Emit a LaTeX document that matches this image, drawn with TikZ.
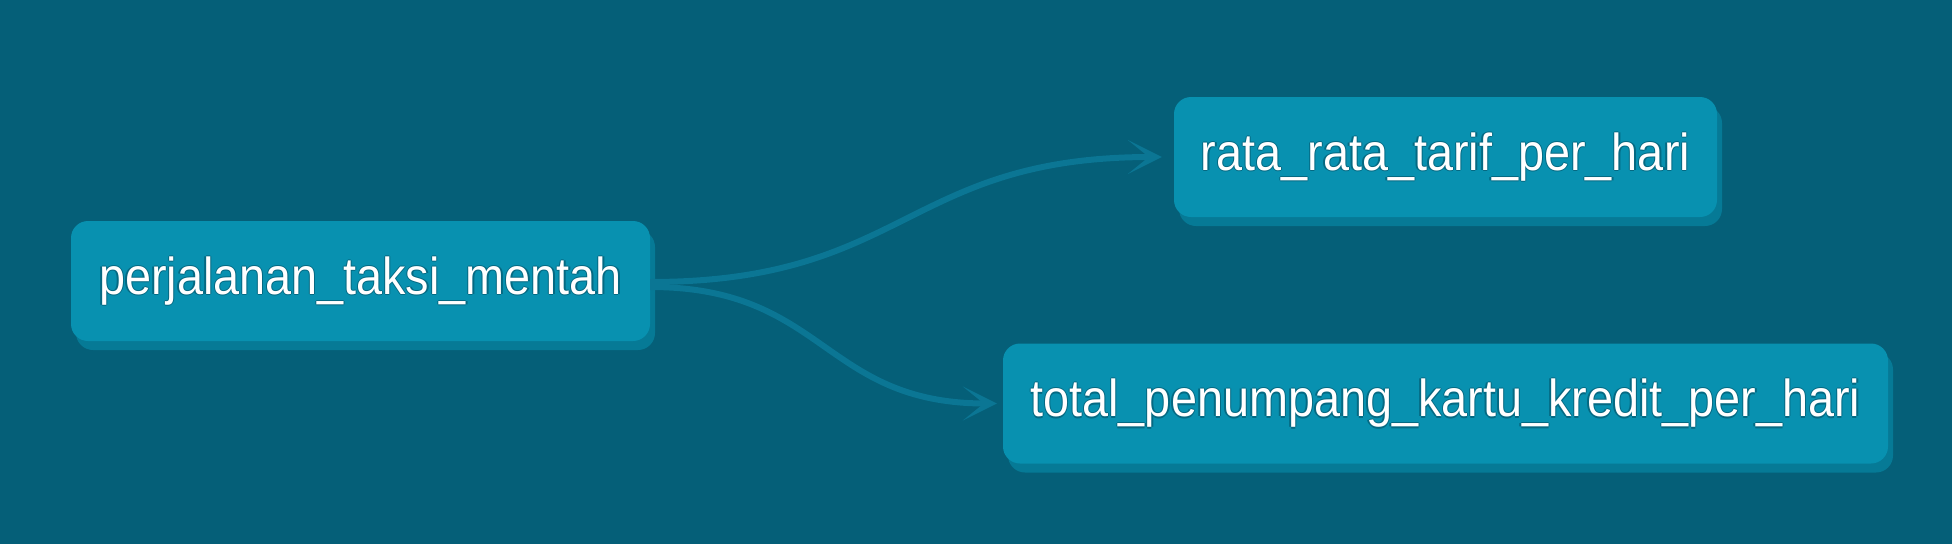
\documentclass[tikz,border=0pt]{standalone}
\usepackage{fontspec}
\setmainfont{Liberation Sans}[FakeStretch=0.9]
\usetikzlibrary{arrows.meta,shadows}
\definecolor{bgcol}{RGB}{5,95,120}
\definecolor{nodecol}{RGB}{8,145,176}
\definecolor{shadowcol}{RGB}{6,122,150}
\definecolor{conncol}{RGB}{11,118,148}
\definecolor{glowcol}{RGB}{5,105,130}
\newcommand\glowtxt[1]{\leavevmode
  \rlap{\textcolor{glowcol}{\hspace{-1.3pt}#1}}%
  \rlap{\textcolor{glowcol}{\hspace{1.3pt}#1}}%
  \rlap{\textcolor{glowcol}{\raisebox{1.3pt}{#1}}}%
  \rlap{\textcolor{glowcol}{\raisebox{-1.3pt}{#1}}}%
  #1}
\tikzset{
  box/.style={draw=none, fill=nodecol, rounded corners=17pt, minimum height=120pt,
    inner sep=0pt, text=white, font=\fontsize{52pt}{60pt}\selectfont,
    drop shadow={shadow xshift=5pt, shadow yshift=-9pt, fill=shadowcol, opacity=1}},
  conn/.style={draw=conncol, line width=6pt,
    -{Stealth[length=34pt,width=34pt,inset=21pt]}}
}
\begin{document}
\begin{tikzpicture}[x=1pt,y=-1pt]
\fill[bgcol] (0,0) rectangle (1952,544);
\useasboundingbox (0,0) rectangle (1952,544);
\node[box, minimum width=579pt] (n1) at (360.5,281) {\glowtxt{perjalanan\_taksi\_mentah}};
\node[box, minimum width=543pt] (n2) at (1445.5,157) {\glowtxt{rata\_rata\_tarif\_per\_hari}};
\node[box, minimum width=885pt] (n3) at (1445.5,403.5) {\glowtxt{total\_penumpang\_kartu\_kredit\_per\_hari}};
\draw[conn, shorten >=12pt] ([yshift=-1pt]n1.east) .. controls +(256,0) and +(-268,0) .. (n2.west);
\draw[conn, shorten >=6pt] ([yshift=-6pt]n1.east) .. controls +(175,0) and +(-180,0) .. (n3.west);
\end{tikzpicture}
\end{document}
